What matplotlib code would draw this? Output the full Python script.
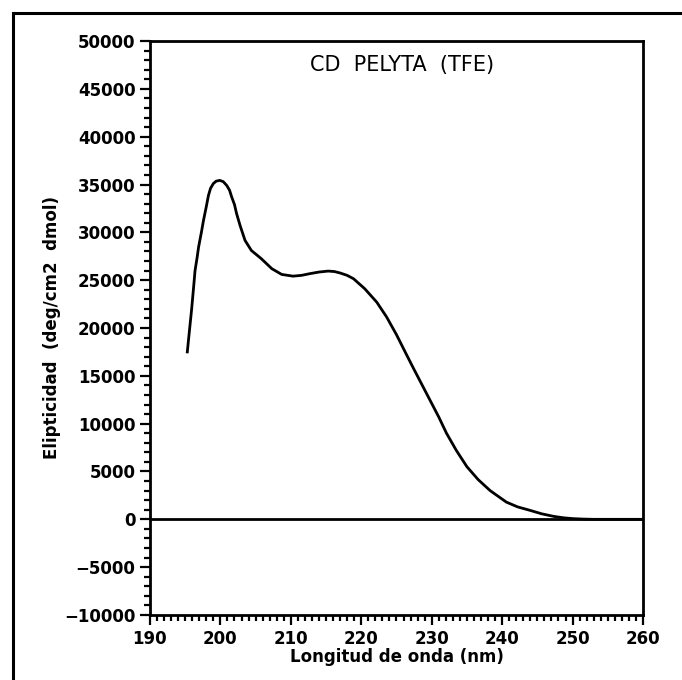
import matplotlib
matplotlib.use("Agg")
import matplotlib.pyplot as plt
from matplotlib.lines import Line2D
from matplotlib.ticker import MultipleLocator

# CD spectrum of pelyta in TFE (wavelength nm, ellipticity deg cm2/dmol)
wavelength = [195.3, 195.6, 195.9, 196.2, 196.4, 196.7, 196.9, 197.3, 197.6,
              198.0, 198.3, 198.6, 199.0, 199.4, 199.9, 200.4, 200.9, 201.3,
              201.6, 202.0, 202.3, 202.8, 203.5, 204.4, 205.8, 207.3, 208.7,
              210.3, 211.5, 212.7, 214.0, 215.3, 216.2, 217.0, 218.0, 218.9,
              220.5, 222.2, 223.6, 225.0, 226.4, 227.4, 228.6, 229.8, 231.0,
              232.1, 233.5, 235.0, 236.6, 238.3, 240.6, 242.2, 244.0, 245.6,
              247.3, 248.7, 250.1, 251.5, 253.0, 260.0]
ellipticity = [17500, 19700, 21850, 24300, 26000, 27400, 28450, 30000, 31250,
               32700, 33850, 34600, 35100, 35350, 35430, 35300, 34900, 34400,
               33700, 32900, 31950, 30700, 29150, 28100, 27250, 26200, 25600,
               25420, 25500, 25680, 25850, 25950, 25900, 25750, 25500, 25150,
               24100, 22700, 21150, 19300, 17250, 15800, 14100, 12400, 10700,
               9000, 7200, 5500, 4150, 3000, 1800, 1300, 930, 580, 310,
               160, 70, 25, 0, 0]

fig = plt.figure(figsize=(6.82, 6.80), dpi=100)
ax = fig.add_axes([0.2199, 0.0956, 0.7229, 0.8441])

ax.plot(wavelength, ellipticity, color="black", lw=2.0,
        solid_joinstyle="round")
ax.axhline(0, color="black", lw=2.0)

ax.set_xlim(190, 260)
ax.set_ylim(-10000, 50000)
ax.xaxis.set_major_locator(MultipleLocator(10))
ax.xaxis.set_minor_locator(MultipleLocator(1))
ax.yaxis.set_major_locator(MultipleLocator(5000))
ax.yaxis.set_minor_locator(MultipleLocator(1000))
ax.tick_params(which="both", direction="out", top=False, right=False,
               width=1.6, colors="black")
ax.tick_params(which="major", length=7, labelsize=12)
ax.tick_params(which="minor", length=4)
ax.yaxis.set_major_formatter(plt.FuncFormatter(
    lambda v, p: f"{int(v)}".replace("-", "\u2212")))
for lab in ax.get_xticklabels() + ax.get_yticklabels():
    lab.set_fontweight("bold")
for s in ax.spines.values():
    s.set_linewidth(2.0)

ax.set_xlabel("Longitud de onda (nm)", fontsize=12, fontweight="bold",
              labelpad=0)
ax.set_ylabel("Elipticidad  (deg/cm2  dmol)", fontsize=12, fontweight="bold",
              labelpad=2)
ax.text(0.511, 0.958, "CD  PELYTA  (TFE)", transform=ax.transAxes,
        ha="center", va="center", fontsize=15)

# page frame around the figure
fig.add_artist(Line2D([13 / 682, 13 / 682], [0, 1 - 13 / 680],
                      transform=fig.transFigure, color="black", lw=2.2))
fig.add_artist(Line2D([13 / 682, 1], [1 - 13 / 680, 1 - 13 / 680],
                      transform=fig.transFigure, color="black", lw=2.2))

fig.savefig("out.png", dpi=100)
